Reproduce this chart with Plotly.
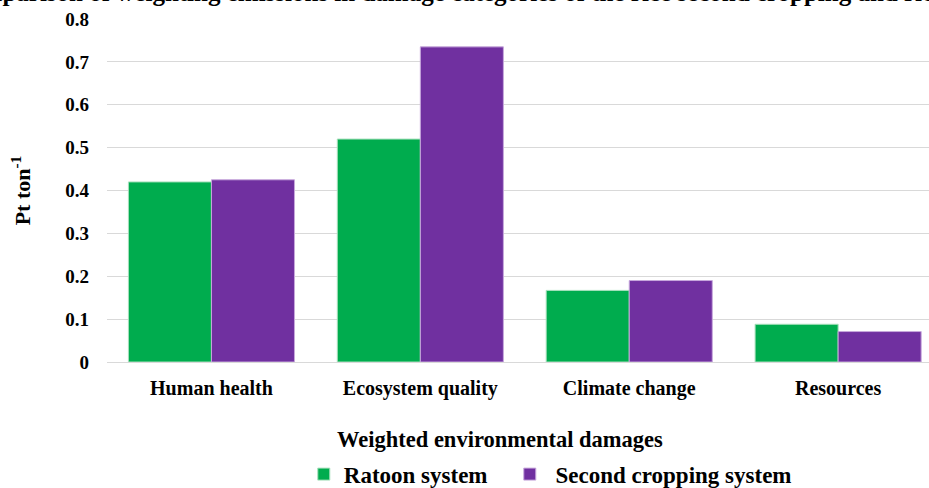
import plotly.graph_objects as go

categories = ["Human health", "Ecosystem quality", "Climate change", "Resources"]
ratoon = [0.42, 0.52, 0.167, 0.088]
second = [0.425, 0.735, 0.19, 0.071]
series_names = ["Ratoon system", "Second cropping system"]
y_ticks = [0, 0.1, 0.2, 0.3, 0.4, 0.5, 0.6, 0.7, 0.8]
y_tick_text = ["0", "0.1", "0.2", "0.3", "0.4", "0.5", "0.6", "0.7", "0.8"]
title_text = "Comparison of weighting emissions in damage categories of the rice second cropping and rice ratoon systems"
x_title = "Weighted environmental damages"

FONT = "Liberation Serif"
NB = "\u00a0"

fig = go.Figure()
fig.add_trace(go.Bar(x=categories, y=ratoon, name="<b>" + series_names[0] + "</b>" + NB * 3,
                     marker=dict(color="#00AC4E", line=dict(color="#A8E0BC", width=1))))
fig.add_trace(go.Bar(x=categories, y=second, name=NB * 1 + "<b>" + series_names[1] + "</b>",
                     marker=dict(color="#7030A0", line=dict(color="#C7A8DC", width=1))))

fig.update_layout(
    width=929, height=488,
    margin=dict(l=107, r=0, t=19, b=126, autoexpand=False),
    paper_bgcolor="white", plot_bgcolor="white",
    barmode="group", bargap=0.205, bargroupgap=0,
    font=dict(family=FONT, color="black"),
    showlegend=True,
    legend=dict(orientation="h", x=0.2394, xanchor="left", y=-0.327, yanchor="middle",
                font=dict(family=FONT, size=23, color="black"),
                itemwidth=30, tracegroupgap=0, bgcolor="rgba(0,0,0,0)"),
    xaxis=dict(type="category", range=[-0.5, 3.435], showgrid=False, automargin=False,
               showline=True, linecolor="#D9D9D9", linewidth=1, ticks="",
               ticklabelstandoff=8,
               tickfont=dict(family=FONT, size=20, color="black")),
    yaxis=dict(range=[0, 0.8], tickvals=y_ticks, ticktext=y_tick_text, automargin=False,
               showgrid=True, gridcolor="#D9D9D9", gridwidth=1, zeroline=False,
               showline=False, ticks="", ticklabelstandoff=17,
               tickfont=dict(family=FONT, size=19, color="black"),
               title=dict(text="<b>Pt ton<sup>-1</sup></b>",
                          font=dict(family=FONT, size=22, color="black"), standoff=28)),
)
fig.update_xaxes(ticktext=["<b>" + c + "</b>" for c in categories], tickvals=categories)
fig.update_yaxes(ticktext=["<b>" + t + "</b>" for t in y_tick_text])

fig.add_annotation(text="<b>" + x_title + "</b>", xref="paper", yref="paper",
                   x=0.478, xanchor="center", y=-0.2274, yanchor="middle",
                   showarrow=False, font=dict(family=FONT, size=22.5, color="black"))

fig.add_annotation(text="<b>" + title_text + "</b>", xref="paper", yref="paper",
                   x=-0.192, xanchor="left", y=1.0, yanchor="bottom", yshift=11,
                   showarrow=False, font=dict(family=FONT, size=25, color="black"))

fig.write_html("out.html")
